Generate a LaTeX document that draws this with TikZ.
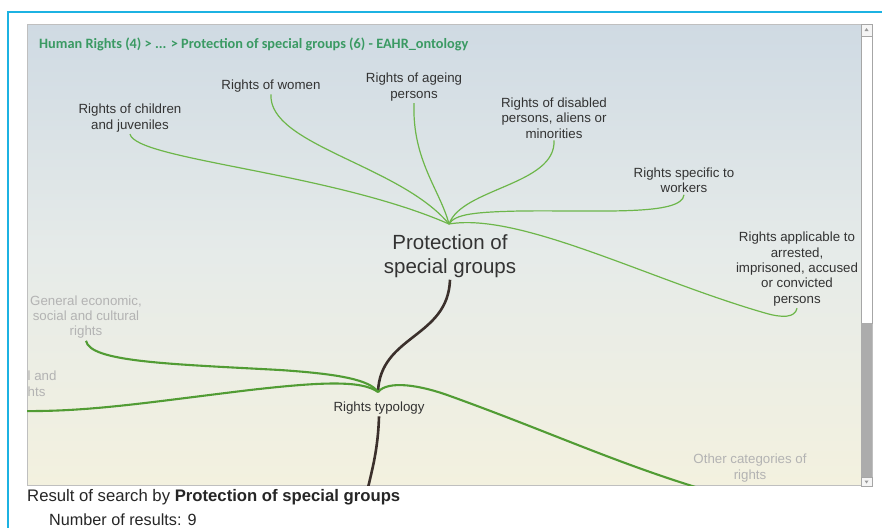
\documentclass[tikz,border=0pt]{standalone}
\usepackage{fontspec}
\setmainfont{Liberation Sans}
\newfontfamily\crumbfont{Carlito}
\definecolor{frame}{HTML}{1CB2E2}
\definecolor{crumb}{HTML}{3A9A63}
\definecolor{thin}{HTML}{6DB64A}
\definecolor{thick}{HTML}{519C34}
\definecolor{dark}{HTML}{3B302C}
\definecolor{lbl}{HTML}{333333}
\definecolor{faded}{HTML}{B3B3B3}
\definecolor{bgtop}{HTML}{CFDAE3}
\definecolor{bgmid}{HTML}{E6EBE9}
\definecolor{bgbot}{HTML}{F3F1DF}
\tikzset{
  lab/.style={align=center, text=lbl, inner sep=2pt, font=\fontsize{13.3}{15.4}\selectfont},
  fade/.style={align=center, text=faded, inner sep=2pt, font=\fontsize{13.3}{15.4}\selectfont},
  big/.style={align=center, text=lbl, inner sep=2pt, font=\fontsize{20.5}{24}\selectfont},
  thinline/.style={draw=thin, line width=1.2pt},
  thickline/.style={draw=thick, line width=2.1pt},
  darkline/.style={draw=dark, line width=2.6pt}
}
\begin{document}
\begin{tikzpicture}[x=1pt,y=-1pt]
\useasboundingbox (0,0) rectangle (882,528);
\fill[white] (0,0) rectangle (882,528);
% outer frame
\draw[frame, line width=2pt] (882,12) -- (8,12) -- (8,528);
% panel
\shade[top color=bgtop, bottom color=bgbot, middle color=bgmid] (27,24) rectangle (861,485);
\draw[gray!50, line width=0.6pt] (27,24) rectangle (872,485);
% scrollbar
\fill[white] (861,24) rectangle (872,485);
\draw[gray!70, fill=gray!8, line width=0.5pt] (861,24) rectangle (872,36);
\fill[gray!80] (866.5,28) -- (864.5,31) -- (868.5,31) -- cycle;
\draw[gray!70, fill=white, line width=0.5pt] (861,36) rectangle (872,323);
\fill[gray!65] (861,323) rectangle (872,477);
\draw[gray!70, fill=gray!8, line width=0.5pt] (861,477) rectangle (872,486);
\fill[gray!80] (866.5,483.5) -- (864.5,480.5) -- (868.5,480.5) -- cycle;
\begin{scope}
\clip (27,24) rectangle (861,485);
% breadcrumb
\node[anchor=west, text=crumb, inner sep=0pt, font=\crumbfont\bfseries\fontsize{14.3}{16}\selectfont] (crumbs) at (39,44.5) {Human Rights (4) > ... > Protection of special groups (6) - EAHR\_ontology};
% labels
\node[big] (prot) at (450,256) {Protection of\\special groups};
\coordinate (hubP) at (449,224);
\node[lab] (chil) at (130,118) {Rights of children\\and juveniles};
\node[lab] (women) at (271,86) {Rights of women};
\node[lab] (age) at (414,87) {Rights of ageing\\persons};
\node[lab] (dis) at (554,118) {Rights of disabled\\persons, aliens or\\minorities};
\node[lab] (work) at (684,180) {Rights specific to\\workers};
\node[lab] (arr) at (797,269) {Rights applicable to\\arrested,\\imprisoned, accused\\or convicted\\persons};
\node[lab] (typ) at (379,408) {Rights typology};
\coordinate (hubT) at (378,392);
\node[fade] (gen) at (86,317) {General economic,\\social and cultural\\rights};
\node[fade, anchor=west, inner sep=0pt] (civA) at (27.5,376) {l and};
\node[fade, anchor=west, inner sep=0pt] (civB) at (27.5,392) {hts};
\node[fade] (oth) at (750,468) {Other categories of\\rights};
\coordinate (leftEnd) at (20,411);
\coordinate (rightEnd) at (712,492);
\coordinate (downEnd) at (367,492);
% thin green connectors to Protection hub
\draw[thinline] (chil.south) .. controls (136,160) and (330,172) .. (hubP);
\draw[thinline] (women.south) .. controls (268,145) and (400,165) .. (hubP);
\draw[thinline] (age.south) .. controls (412,160) and (440,190) .. (hubP);
\draw[thinline] (dis.south) .. controls (556,185) and (462,188) .. (hubP);
\draw[thinline] (work.south) .. controls (682,216) and (600,210) .. (520,211) .. controls (475,212) and (455,214) .. (hubP);
\draw[thinline] (arr.south) .. controls (795,318) and (782,318) .. (765,313) .. controls (650,280) and (520,212) .. (hubP);
% dark connectors
\draw[darkline] (prot.south) .. controls (448,338) and (380,335) .. (hubT);
\draw[darkline] (typ.south) .. controls (378,450) and (372,470) .. (downEnd);
% thick green connectors from typology hub
\draw[thickline] (gen.south) .. controls (90,362) and (170,364) .. (280,370) .. controls (340,374) and (370,380) .. (hubT);
\draw[thickline] (hubT) .. controls (362,380) and (320,382) .. (250,390) .. controls (150,402) and (90,412) .. (leftEnd);
\draw[thickline] (hubT) .. controls (388,380) and (420,385) .. (450,396) .. controls (550,432) and (620,465) .. (rightEnd);
\end{scope}
% result text
\node[anchor=west, inner sep=0pt, text=black!85, font=\fontsize{16.7}{18}\selectfont] (res) at (27,497) {Result of search by \textbf{Protection of special groups}};
\node[anchor=west, inner sep=0pt, text=black!85, font=\fontsize{16.2}{18}\selectfont] (num) at (49,520) {Number of results: 9};
\end{tikzpicture}
\end{document}
